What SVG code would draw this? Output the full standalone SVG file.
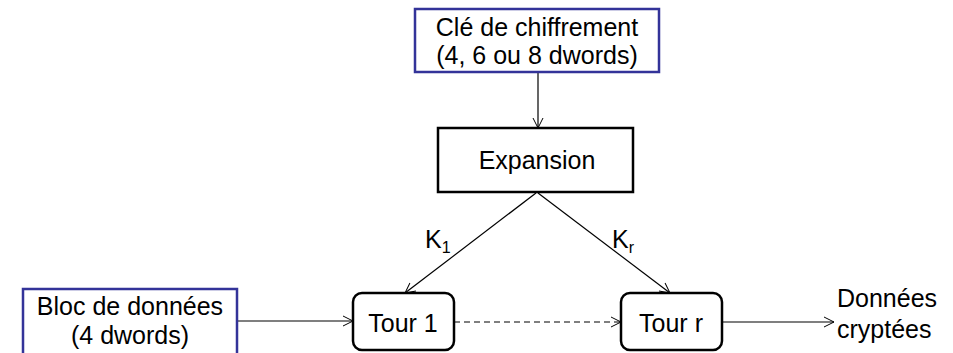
<svg xmlns="http://www.w3.org/2000/svg" width="953" height="353" viewBox="0 0 953 353">
  <defs>
    <marker id="arrow" viewBox="0 0 12 12" refX="11" refY="6" markerWidth="12" markerHeight="12" markerUnits="userSpaceOnUse" orient="auto">
      <path d="M1,1 L11,6 L1,11" fill="none" stroke="#000" stroke-width="1"/>
    </marker>
    <style>
      text { font-family: "Liberation Sans", Arial, sans-serif; font-size: 25px; fill: #000; }
      .io { fill: #fff; stroke: #333399; stroke-width: 2.5; }
      .proc { fill: #fff; stroke: #000; stroke-width: 2.5; }
      .edge { fill: none; stroke: #000; stroke-width: 1.2; marker-end: url(#arrow); }
      .dash { stroke-dasharray: 6 4; }
      .mid { text-anchor: middle; }
    </style>
  </defs>
  <rect width="953" height="353" fill="#fff"/>

  <g id="connectors">
    <line class="edge" x1="538" y1="72" x2="538" y2="128"/>
    <line class="edge" x1="536" y1="193" x2="405" y2="293"/>
    <line class="edge" x1="538" y1="193" x2="670" y2="293"/>
    <line class="edge" x1="237" y1="321" x2="353" y2="321"/>
    <line class="edge dash" x1="454" y1="322" x2="621" y2="322"/>
    <line class="edge" x1="722" y1="322" x2="834" y2="322"/>
    <text x="425" y="248">K<tspan font-size="16" dy="5">1</tspan></text>
    <text x="612" y="248">K<tspan font-size="16" dy="5">r</tspan></text>
  </g>

  <g id="cle">
    <rect class="io" x="415" y="9" width="244" height="63"/>
    <text class="mid" x="537" y="36">Clé de chiffrement</text>
    <text class="mid" x="537" y="64">(4, 6 ou 8 dwords)</text>
  </g>

  <g id="expansion">
    <rect class="proc" x="438" y="128" width="195" height="64"/>
    <text class="mid" x="537" y="169">Expansion</text>
  </g>

  <g id="bloc">
    <rect class="io" x="23" y="289" width="214" height="70"/>
    <text class="mid" x="130" y="315">Bloc de données</text>
    <text class="mid" x="130" y="344">(4 dwords)</text>
  </g>

  <g id="tour1">
    <rect class="proc" x="353" y="293" width="101" height="57" rx="9"/>
    <text class="mid" x="403" y="332">Tour 1</text>
  </g>

  <g id="tourr">
    <rect class="proc" x="621" y="293" width="101" height="57" rx="9"/>
    <text class="mid" x="671" y="332">Tour r</text>
  </g>

  <g id="sortie">
    <text x="837" y="307">Données</text>
    <text x="837" y="338">cryptées</text>
  </g>
</svg>
